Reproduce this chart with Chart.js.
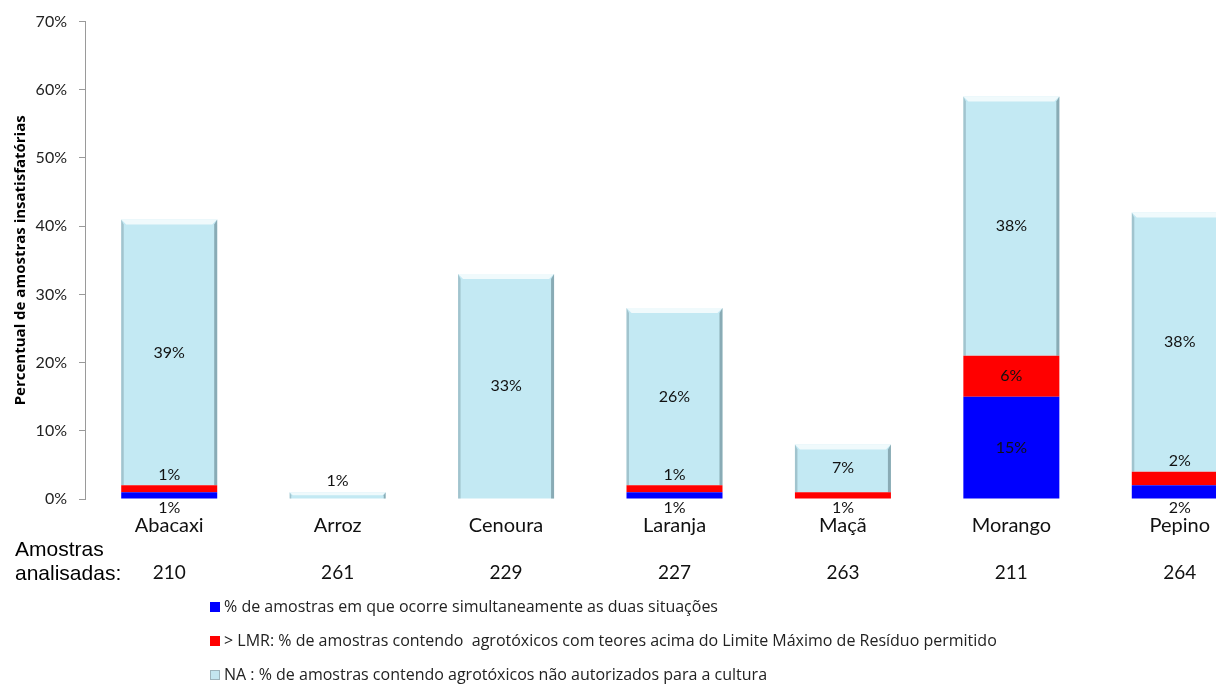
<!DOCTYPE html>
<html lang="pt">
<head>
<meta charset="utf-8">
<script src="https://cdn.jsdelivr.net/npm/chart.js@4/dist/chart.umd.min.js"></script>
<style>
  html,body{margin:0;padding:0;background:#fff;overflow:hidden;}
  #wrap{width:1270px;height:684px;}
</style>
</head>
<body>
<div id="wrap"><canvas id="c" width="1270" height="684"></canvas></div>
<script>
// dados
const categorias = ["Abacaxi","Arroz","Cenoura","Laranja","Maçã","Morango","Pepino"];
const amostras   = [210, 261, 229, 227, 263, 211, 264];
const ambas      = [1, 0, 0, 1, 0, 15, 2];   // azul
const acimaLMR   = [1, 0, 0, 1, 1, 6, 2];    // vermelho
const naoAutoriz = [39, 1, 33, 26, 7, 38, 38]; // NA
const yTicks     = [0,10,20,30,40,50,60,70];

const legendas = [
  "% de amostras em que ocorre simultaneamente as duas situações",
  "> LMR: % de amostras contendo  agrotóxicos com teores acima do Limite Máximo de Resíduo permitido",
  "NA : % de amostras contendo agrotóxicos não autorizados para a cultura"
];

const FONT = "Lato, 'Open Sans', sans-serif";
const FONT2 = "'Open Sans', Lato, sans-serif";

// bisel dos bares NA
const bevel = {
  id:"bevel",
  afterDatasetDraw(chart, args){
    if(args.index!==2) return;
    const c = chart.ctx;
    args.meta.data.forEach(el=>{
      const {x,y,base,width} = el.getProps(["x","y","base","width"],true);
      if(base-y<1) return;
      const x0=x-width/2, x1=x+width/2, h=Math.min(5,(base-y)/2);
      c.save();
      c.fillStyle="rgba(255,255,255,0.75)";
      c.beginPath(); c.moveTo(x0,y); c.lineTo(x1,y); c.lineTo(x1-h,y+h); c.lineTo(x0+h,y+h); c.closePath(); c.fill();
      c.fillStyle="rgba(110,140,150,0.4)";
      c.beginPath(); c.moveTo(x0,y); c.lineTo(x0+h*0.5,y+h); c.lineTo(x0+h*0.5,base); c.lineTo(x0,base); c.closePath(); c.fill();
      c.fillStyle="rgba(90,120,130,0.55)";
      c.beginPath(); c.moveTo(x1,y); c.lineTo(x1-h*0.6,y+h); c.lineTo(x1-h*0.6,base); c.lineTo(x1,base); c.closePath(); c.fill();
      c.restore();
    });
  }
};

// rótulos de valores, amostras e legenda
const extras = {
  id:"extras",
  afterDraw(chart){
    const c = chart.ctx, xs = chart.scales.x;
    c.save();
    c.fillStyle="#111"; c.font="16px "+FONT; c.textAlign="center"; c.textBaseline="middle";
    chart.data.datasets.forEach((ds,di)=>{
      const meta = chart.getDatasetMeta(di);
      ds.data.forEach((v,i)=>{
        if(!v) return;
        const el = meta.data[i];
        const {x,y,base} = el.getProps(["x","y","base"],true);
        let ly = (y+base)/2;
        if(base-y<20){
          if(di===0) ly = base+9;
          else if(di===1 && !ambas[i]) ly = base+9;
          else ly = y-11;
        }
        c.fillText(v+"%", x, ly);
      });
    });
    // amostras analisadas
    c.font="19px "+FONT; c.fillStyle="#111";
    amostras.forEach((n,i)=>c.fillText(String(n), xs.getPixelForValue(i), 573));
    c.textAlign="left"; c.font="21px 'Liberation Sans', Arial, sans-serif"; c.fillStyle="#000";
    c.fillText("Amostras", 15, 550);
    c.fillText("analisadas:", 15, 574);
    // legenda
    const cores=["#0000ff","#ff0000","#c3e6ef"];
    legendas.forEach((t,i)=>{
      const yy = 607+i*34;
      c.fillStyle=cores[i]; c.fillRect(210, yy-5, 10, 10);
      if(i===2){ c.strokeStyle="#9db4bb"; c.lineWidth=1; c.strokeRect(210.5, yy-4.5, 9, 9); }
      c.fillStyle="#222"; c.font="16px "+FONT2;
      c.fillText(t, 224, yy);
    });
    c.restore();
  }
};

new Chart(document.getElementById("c"), {
  type:"bar",
  data:{
    labels: categorias,
    datasets:[
      {label:legendas[0], data:ambas, backgroundColor:"#0000ff", stack:"s"},
      {label:legendas[1], data:acimaLMR, backgroundColor:"#ff0000", stack:"s"},
      {label:legendas[2], data:naoAutoriz, backgroundColor:"#c3e9f3", stack:"s"}
    ]
  },
  options:{
    responsive:false, animation:false,
    datasets:{bar:{barPercentage:0.57, categoryPercentage:1}},
    layout:{padding:{top:21,right:6,left:0,bottom:0}},
    plugins:{legend:{display:false}, tooltip:{enabled:false}},
    scales:{
      x:{
        stacked:true,
        grid:{display:false}, border:{display:false},
        ticks:{color:"#111", font:{family:FONT,size:20}, padding:7},
        afterFit(s){ s.height = 185; }
      },
      y:{
        stacked:true, min:0, max:70,
        afterBuildTicks(s){ s.ticks = yTicks.map(v=>({value:v})); },
        grid:{drawOnChartArea:false, drawTicks:true, tickLength:6, color:"#9a9a9a"},
        border:{display:true, color:"#9a9a9a"},
        ticks:{color:"#222", font:{family:FONT,size:16}, padding:12, callback:v=>v+"%"},
        title:{display:true, text:"Percentual de amostras insatisfatórias", color:"#000",
               font:{family:FONT2,size:15,weight:"bold"}, padding:{top:12,bottom:0}},
        afterFit(s){ s.width = 85; }
      }
    }
  },
  plugins:[bevel, extras]
});
</script>
</body>
</html>
